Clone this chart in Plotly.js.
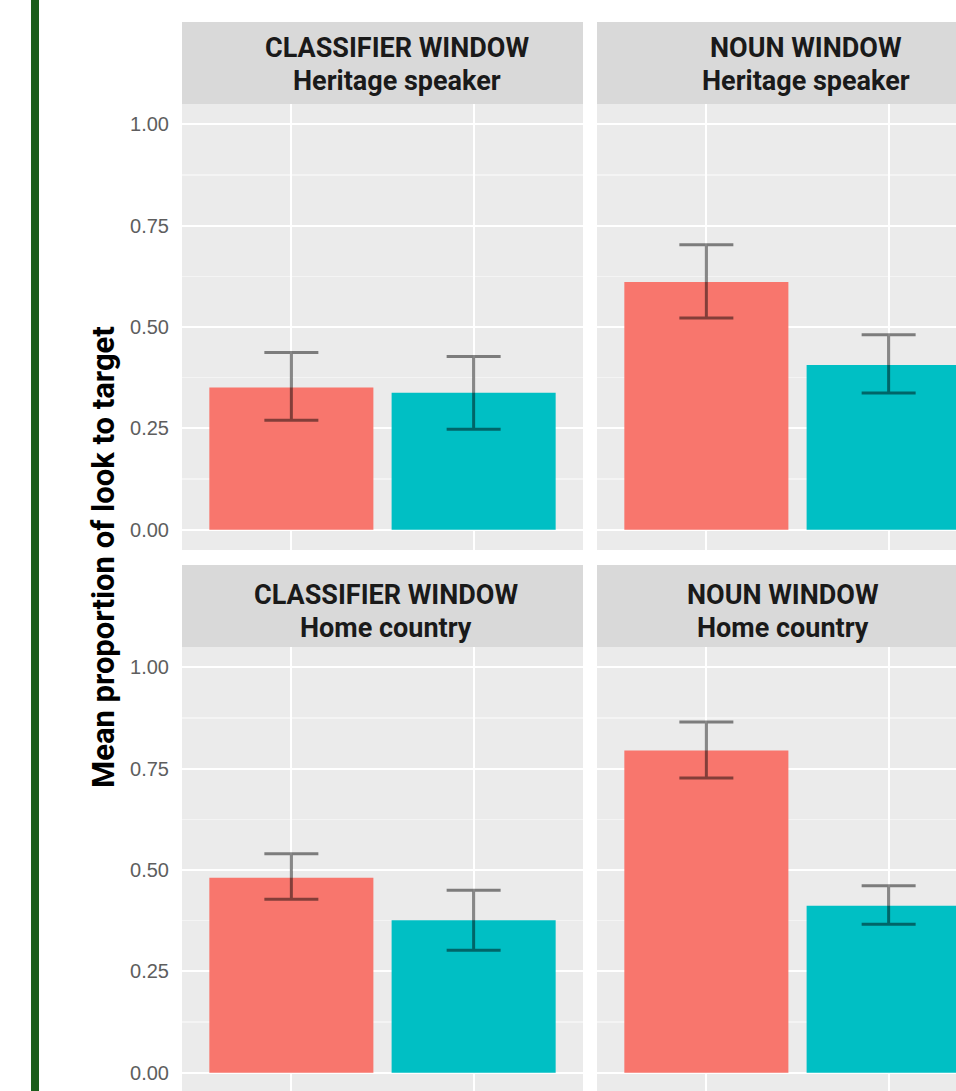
<!DOCTYPE html>
<html>
<head>
<meta charset="utf-8">
<script src="https://cdn.plot.ly/plotly-3.0.1.min.js"></script>
<style>
  html, body { margin: 0; padding: 0; background: #ffffff; overflow: hidden; }
  #chart { width: 1010px; height: 1100px; }
</style>
</head>
<body>
<div id="chart"></div>
<script>
// Conditions shown on the x axis of every facet (red, teal)
const conditions = ['Condition 1', 'Condition 2'];
const barColors = ['#F8766D', '#00BFC4'];

// Facet labels
const windowLabels = ['CLASSIFIER WINDOW', 'NOUN WINDOW'];
const groupLabels = ['Heritage speaker', 'Home country'];

// Mean proportion of looks to target, with lower / upper error limits
const classifierHeritageMean = [0.351, 0.338];
const classifierHeritageLow  = [0.270, 0.248];
const classifierHeritageHigh = [0.437, 0.427];

const nounHeritageMean = [0.611, 0.406];
const nounHeritageLow  = [0.522, 0.337];
const nounHeritageHigh = [0.703, 0.481];

const classifierHomeMean = [0.481, 0.376];
const classifierHomeLow  = [0.428, 0.302];
const classifierHomeHigh = [0.540, 0.450];

const nounHomeMean = [0.795, 0.412];
const nounHomeLow  = [0.727, 0.366];
const nounHomeHigh = [0.865, 0.461];

const yTickVals = [0, 0.25, 0.5, 0.75, 1];
const yTickText = ['0.00', '0.25', '0.50', '0.75', '1.00'];

// Page geometry (pixels)
const W = 1010, H = 1100;
const colX = [[182, 583], [597, 998]];
const rowPlotY = [[104, 550], [647, 1093]];
const rowStripY = [[22, 104], [565, 647]];

const px = v => v / W;
const py = v => 1 - v / H;

const panels = [
  { mean: classifierHeritageMean, low: classifierHeritageLow, high: classifierHeritageHigh, col: 0, row: 0 },
  { mean: nounHeritageMean,       low: nounHeritageLow,       high: nounHeritageHigh,       col: 1, row: 0 },
  { mean: classifierHomeMean,     low: classifierHomeLow,     high: classifierHomeHigh,     col: 0, row: 1 },
  { mean: nounHomeMean,           low: nounHomeLow,           high: nounHomeHigh,           col: 1, row: 1 }
];

const traces = [];
const layout = {
  width: W,
  height: H,
  margin: { l: 0, r: 0, t: 0, b: 0 },
  paper_bgcolor: '#ffffff',
  plot_bgcolor: '#EBEBEB',
  showlegend: false,
  shapes: [],
  annotations: []
};

panels.forEach((p, i) => {
  const n = i === 0 ? '' : String(i + 1);
  traces.push({
    type: 'bar',
    x: conditions,
    y: p.mean,
    width: 0.9,
    marker: { color: barColors, line: { width: 0 } },
    error_y: {
      type: 'data',
      symmetric: false,
      array: p.high.map((h, k) => h - p.mean[k]),
      arrayminus: p.low.map((l, k) => p.mean[k] - l),
      color: 'rgba(0,0,0,0.47)',
      thickness: 3,
      width: 27
    },
    xaxis: 'x' + n,
    yaxis: 'y' + n,
    hoverinfo: 'skip'
  });

  layout['xaxis' + n] = {
    domain: [px(colX[p.col][0]), px(colX[p.col][1])],
    anchor: 'y' + n,
    type: 'category',
    range: [-0.6, 1.6],
    showgrid: true,
    gridcolor: '#ffffff',
    gridwidth: 2,
    showticklabels: false,
    ticks: '',
    zeroline: false,
    showline: false,
    fixedrange: true
  };
  layout['yaxis' + n] = {
    domain: [py(rowPlotY[p.row][1]), py(rowPlotY[p.row][0])],
    anchor: 'x' + n,
    range: [-0.05, 1.05],
    tickvals: yTickVals,
    ticktext: yTickText,
    showticklabels: p.col === 0,
    ticks: '',
    ticklabelstandoff: 12,
    tickfont: { family: 'Liberation Sans, Arial, sans-serif', size: 20, color: '#5e5e5e' },
    showgrid: true,
    gridcolor: '#ffffff',
    gridwidth: 2,
    minor: { dtick: 0.125, tick0: 0, showgrid: true, gridcolor: '#F4F4F4', gridwidth: 1.3 },
    zeroline: false,
    showline: false,
    fixedrange: true
  };

  // Facet strip
  layout.shapes.push({
    type: 'rect', xref: 'paper', yref: 'paper', layer: 'below',
    x0: px(colX[p.col][0]), x1: px(colX[p.col][1]),
    y0: py(rowStripY[p.row][1]), y1: py(rowStripY[p.row][0]),
    fillcolor: '#D9D9D9', line: { width: 0 }
  });
});

// Strip labels: window on the first line, group on the second
const stripTextX = [[397, 806], [386, 783]];
const stripLine1Y = [48, 595];
const stripLine2Y = [81, 628];
[0, 1].forEach(row => {
  [0, 1].forEach(col => {
    const common = {
      xref: 'paper', yref: 'paper', showarrow: false,
      x: px(stripTextX[row][col]), xanchor: 'center', yanchor: 'middle',
      font: { family: 'Roboto, sans-serif', size: 27, color: '#1a1a1a' }
    };
    layout.annotations.push(Object.assign({}, common, {
      y: py(stripLine1Y[row]), text: '<b>' + windowLabels[col] + '</b>'
    }));
    layout.annotations.push(Object.assign({}, common, {
      y: py(stripLine2Y[row]), text: '<b>' + groupLabels[row] + '</b>'
    }));
  });
});

// Shared y-axis title
layout.annotations.push({
  xref: 'paper', yref: 'paper', showarrow: false,
  x: px(103), y: py(557), xanchor: 'center', yanchor: 'middle',
  textangle: -90,
  text: '<b>Mean proportion of look to target</b>',
  font: { family: 'Roboto, sans-serif', size: 31, color: '#000000' }
});

// Green rule along the left edge of the page
layout.shapes.push({
  type: 'rect', xref: 'paper', yref: 'paper', layer: 'above',
  x0: px(31), x1: px(39), y0: 0, y1: 1,
  fillcolor: '#1B5E1B', line: { width: 0 }
});

Plotly.newPlot('chart', traces, layout, { staticPlot: true, displayModeBar: false });
</script>
</body>
</html>
